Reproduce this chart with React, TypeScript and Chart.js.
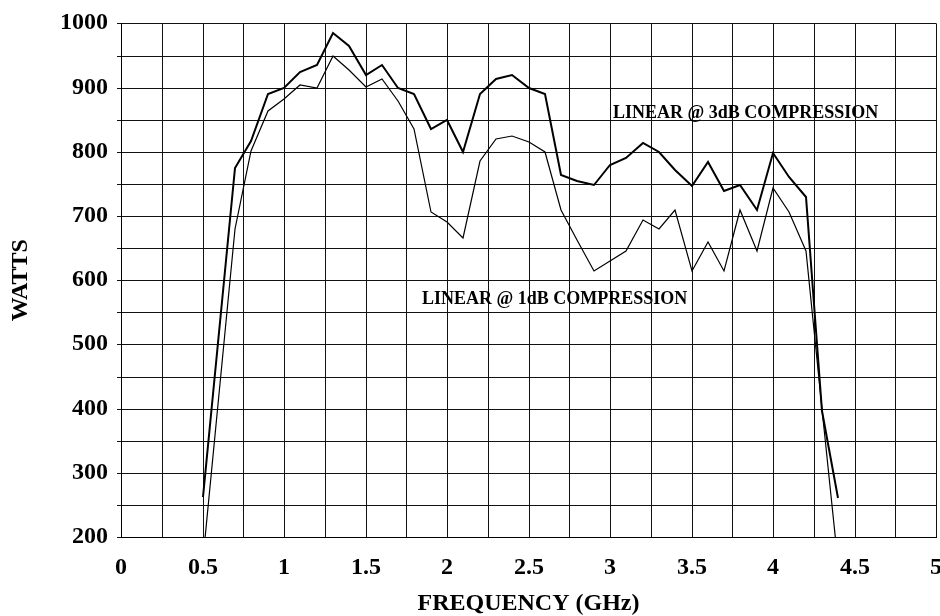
import React, { useEffect, useRef } from "react";
import { Chart, registerables } from "chart.js";

Chart.register(...registerables);

// ---- Data ----
const FREQ_GHZ = [
  0.5, 0.7, 0.8, 0.9, 1.0, 1.1, 1.2, 1.3, 1.4, 1.5, 1.6, 1.7, 1.8, 1.9, 2.0,
  2.1, 2.2, 2.3, 2.4, 2.5, 2.6, 2.7, 2.8, 2.9, 3.0, 3.1, 3.2, 3.3, 3.4, 3.5,
  3.6, 3.7, 3.8, 3.9, 4.0, 4.1, 4.2, 4.3, 4.4,
];

const WATTS_3DB = [
  262, 775, 817, 890, 900, 924, 935, 985, 965, 920, 935, 899, 890, 835, 850,
  800, 890, 914, 920, 899, 890, 764, 755, 749, 780, 790, 814, 799, 772, 747,
  784, 739, 749, 709, 798, 761, 730, 397, 261,
];

const WATTS_1DB = [
  165, 680, 801, 864, 882, 904, 899, 949, 928, 901, 914, 879, 836, 707, 690,
  665, 785, 820, 824, 815, 800, 709, 662, 615, 630, 646, 694, 680, 709, 615,
  659, 615, 709, 646, 744, 706, 645, 400, 160,
];

const X_MIN = 0;
const X_MAX = 5;
const X_GRID_STEP = 0.25;
const X_LABEL_STEP = 0.5;
const Y_MIN = 200;
const Y_MAX = 1000;
const Y_GRID_STEP = 50;
const Y_LABEL_STEP = 100;

const X_TITLE = "FREQUENCY (GHz)";
const Y_TITLE = "WATTS";

const CURVE_LABELS = [
  { text: "LINEAR @ 3dB COMPRESSION", x: 3.02, y: 861 },
  { text: "LINEAR @ 1dB COMPRESSION", x: 1.845, y: 570 },
];

const SERIF = '"Liberation Serif", "Times New Roman", Times, serif';

const curveLabelPlugin = {
  id: "curveLabels",
  afterDatasetsDraw(chart: any) {
    const { ctx, scales } = chart;
    ctx.save();
    ctx.fillStyle = "#000";
    ctx.font = `bold 18px ${SERIF}`;
    ctx.textAlign = "left";
    ctx.textBaseline = "middle";
    for (const l of CURVE_LABELS) {
      ctx.fillText(l.text, scales.x.getPixelForValue(l.x), scales.y.getPixelForValue(l.y));
    }
    ctx.restore();
  },
};

export default function App() {
  const canvasRef = useRef<HTMLCanvasElement | null>(null);

  useEffect(() => {
    document.body.style.margin = "0";
    const canvas = canvasRef.current;
    if (!canvas) return;

    const chart = new Chart(canvas, {
      type: "line",
      data: {
        datasets: [
          {
            label: "3dB",
            data: FREQ_GHZ.map((f, i) => ({ x: f, y: WATTS_3DB[i] })),
            borderColor: "#000",
            borderWidth: 2,
            pointRadius: 0,
            tension: 0,
            fill: false,
          },
          {
            label: "1dB",
            data: FREQ_GHZ.map((f, i) => ({ x: f, y: WATTS_1DB[i] })),
            borderColor: "#000",
            borderWidth: 1.2,
            pointRadius: 0,
            tension: 0,
            fill: false,
          },
        ],
      },
      options: {
        responsive: false,
        animation: false,
        devicePixelRatio: 1,
        layout: { padding: { top: 20, right: 4, bottom: 0, left: 0 } },
        plugins: {
          legend: { display: false },
          tooltip: { enabled: false },
        },
        scales: {
          x: {
            type: "linear",
            min: X_MIN,
            max: X_MAX,
            alignToPixels: true,
            afterFit(scale: any) {
              scale.height = 79;
              scale.paddingRight = 4;
              scale.paddingLeft = 0;
            },
            grid: {
              color: "#111",
              lineWidth: 1,
              drawTicks: false,
            },
            border: { color: "#000", width: 1 },
            ticks: {
              stepSize: X_GRID_STEP,
              autoSkip: false,
              maxRotation: 0,
              padding: 16,
              color: "#000",
              font: { family: SERIF, size: 24, weight: "bold" },
              callback: (v: any) => {
                const n = Number(v);
                const r = n / X_LABEL_STEP;
                return Math.abs(r - Math.round(r)) < 1e-9 ? String(n) : "";
              },
            },
            title: {
              display: true,
              text: X_TITLE,
              color: "#000",
              font: { family: SERIF, size: 24, weight: "bold", lineHeight: 1 },
              padding: { top: 0, bottom: 0 },
            },
          },
          y: {
            type: "linear",
            min: Y_MIN,
            max: Y_MAX,
            alignToPixels: true,
            afterFit(scale: any) {
              scale.width = 121;
            },
            grid: {
              color: "#111",
              lineWidth: 1,
              tickLength: 4,
            },
            border: { color: "#000", width: 1 },
            ticks: {
              stepSize: Y_GRID_STEP,
              autoSkip: false,
              padding: 9,
              color: "#000",
              font: { family: SERIF, size: 24, weight: "bold" },
              callback: (v: any) => {
                const n = Number(v);
                return n % Y_LABEL_STEP === 0 ? String(n) : "";
              },
            },
            title: {
              display: true,
              text: Y_TITLE,
              color: "#000",
              font: { family: SERIF, size: 24, weight: "bold", lineHeight: 1 },
              padding: { top: 9, bottom: 0 },
            },
          },
        },
      },
      plugins: [curveLabelPlugin],
    } as any);

    return () => chart.destroy();
  }, []);

  return (
    <div style={{ width: 940, height: 616, background: "#fff" }}>
      <canvas ref={canvasRef} width={940} height={616} style={{ display: "block" }} />
    </div>
  );
}
